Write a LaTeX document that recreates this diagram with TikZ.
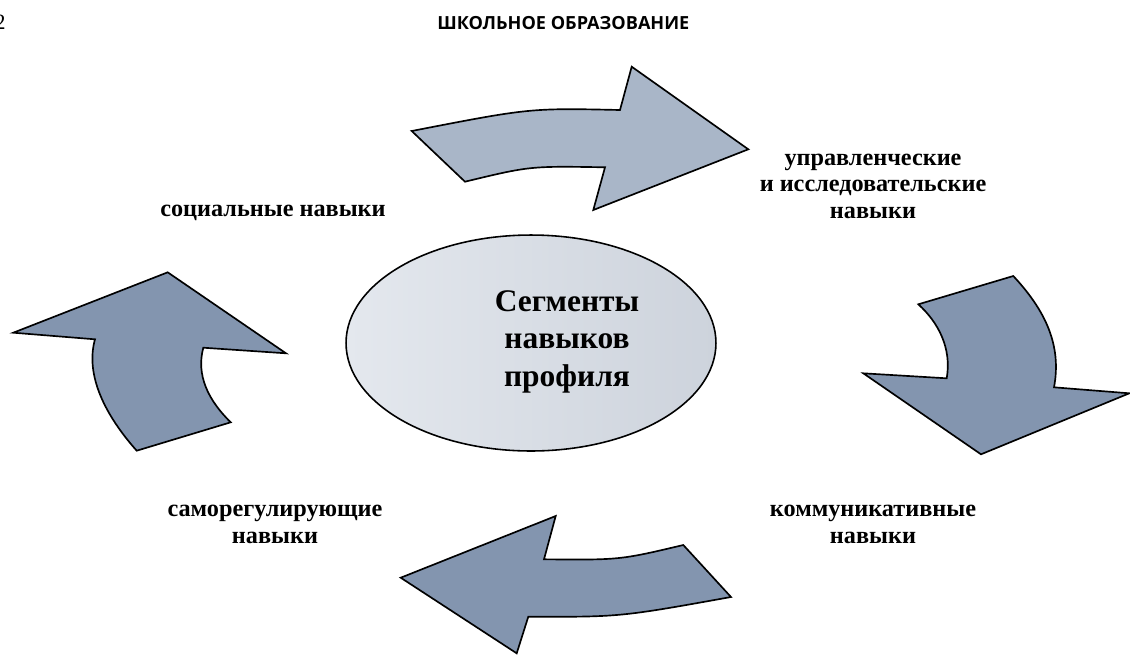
\documentclass[tikz,border=0pt]{standalone}
\usepackage{fontspec}
\setmainfont{Liberation Serif}
\newfontfamily\hdrfont{Open Sans}
\usetikzlibrary{shapes.geometric}
\definecolor{arrowlight}{HTML}{A9B6C8}
\definecolor{arrowdark}{HTML}{8395AF}
\definecolor{elleft}{HTML}{E4E8EE}
\definecolor{elright}{HTML}{CDD3DC}
\tikzset{
  bigarrow/.style={draw=black, line width=0.95pt, line join=miter},
  lbl/.style={inner sep=0pt, anchor=base, font=\bfseries\fontsize{13.8}{15.3}\selectfont},
  ctr/.style={inner sep=0pt, anchor=base, font=\bfseries\fontsize{17.9}{21.2}\selectfont},
  centreoval/.style={ellipse, draw=black, line width=0.9pt, left color=elleft, right color=elright,
      minimum width=7.4cm, minimum height=4.32cm, inner sep=0pt, outer sep=0pt},
}
\begin{document}
\begin{tikzpicture}[x=0.02cm, y=-0.02cm]
\useasboundingbox (0,0) rectangle (1130,657);
% header
\node[inner sep=0pt, anchor=base east, font=\fontsize{12.5}{14}\selectfont] (pg) at (6,29.3) {2};
\node[inner sep=0pt, anchor=base west, font=\hdrfont\bfseries\fontsize{10.3}{12}\selectfont] (hdr) at (437,29.3) {ШКОЛЬНОЕ ОБРАЗОВАНИЕ};
% central ellipse
\node[centreoval] (ell) at (531,343) {};
% top arrow
\path[bigarrow, fill=arrowlight] (411.7,131) .. controls (530,108) .. (620,110)
  -- (631.7,66.7) -- (748.3,149.3) -- (593.3,210) -- (605,167.3)
  .. controls (530,166) .. (465,181.7) -- cycle;
% right arrow
\path[bigarrow, fill=arrowdark] (918.3,304.3) -- (1013.3,276)
  .. controls (1045,310) and (1062,345) .. (1054,387.3)
  -- (1129.3,393.3) -- (981,454.3) -- (863.3,373.3) -- (946.7,378.3)
  .. controls (952,348) and (938,322) .. (918.3,304.3) -- cycle;
% bottom arrow
\path[bigarrow, fill=arrowdark] (683.3,545) .. controls (620,560) .. (544,559.3)
  -- (555.7,516) -- (400.7,577.7) -- (516.7,653.3) -- (528.3,616.7)
  .. controls (620,617) .. (731,597) -- cycle;
% left arrow
\path[bigarrow, fill=arrowdark] (13.3,332.7) -- (167.7,272.3) -- (286,353.3) -- (203.3,347.7)
  .. controls (196,375) and (208,400) .. (230.7,422.3)
  -- (136.7,450.7)
  .. controls (105,415) and (85,375) .. (95,339.3) -- cycle;
% labels
\node[ctr] (c) at (567,311.7) {\begin{tabular}[t]{@{}c@{}}Сегменты\\навыков\\профиля\end{tabular}};
\node[lbl] (soc) at (273,216) {социальные навыки};
\node[lbl] (upr) at (873,165) {\begin{tabular}[t]{@{}c@{}}управленческие\\и исследовательские\\навыки\end{tabular}};
\node[lbl] (kom) at (873,516.7) {\begin{tabular}[t]{@{}c@{}}коммуникативные\\навыки\end{tabular}};
\node[lbl] (sam) at (275,516.7) {\begin{tabular}[t]{@{}c@{}}саморегулирующие\\навыки\end{tabular}};
\end{tikzpicture}
\end{document}
